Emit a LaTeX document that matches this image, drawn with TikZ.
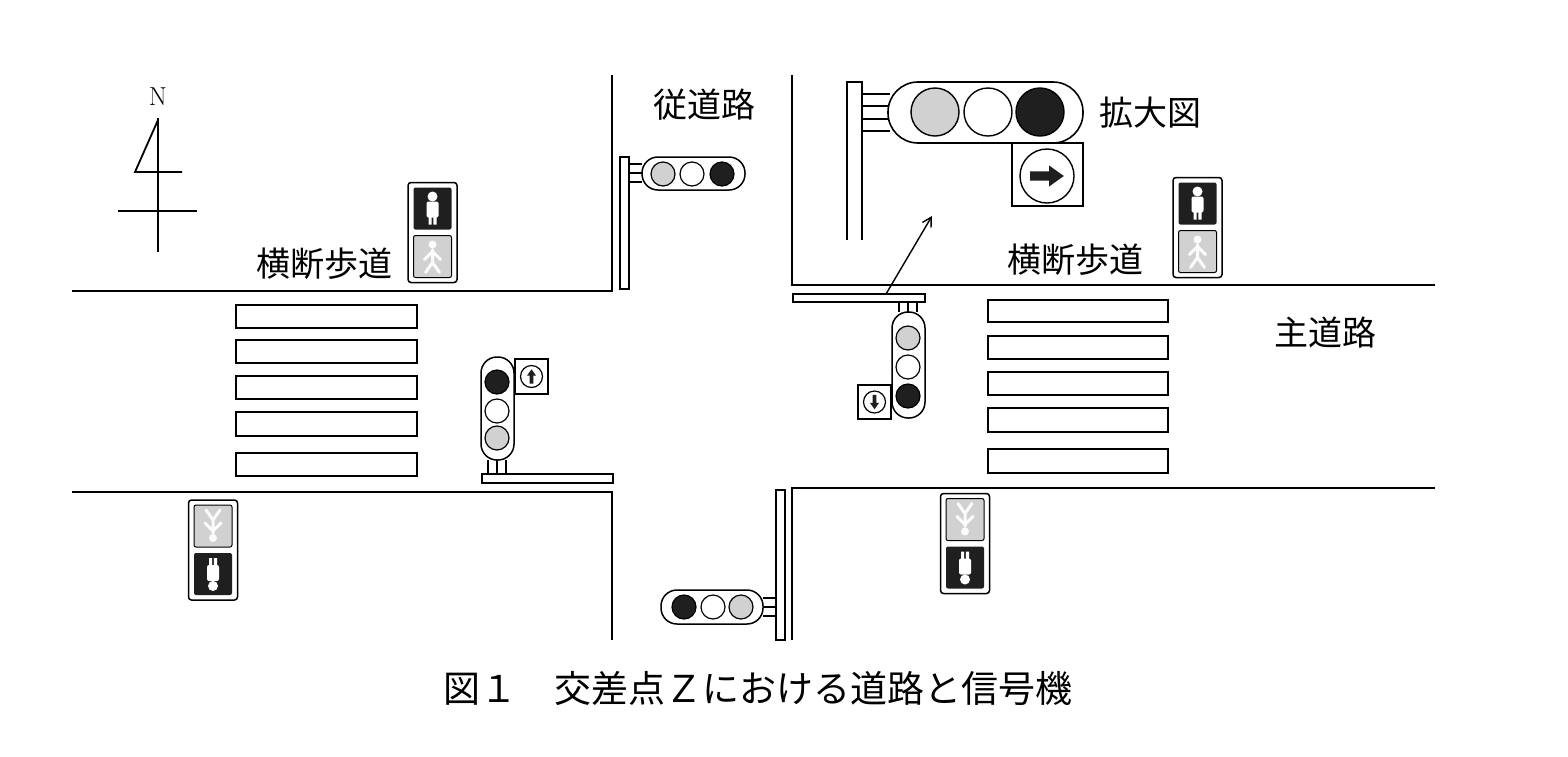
\documentclass[tikz,border=0pt]{standalone}
\usepackage{fontspec}
\newfontfamily\cjk{Noto Sans CJK JP}
\usetikzlibrary{arrows.meta}
\definecolor{lgray}{gray}{0.82}
\definecolor{dk}{gray}{0.12}
\tikzset{
  road/.style={line width=1.8pt},
  box/.style={line width=1.5pt, fill=white},
  lamp/.style={line width=1.2pt},
  lab/.style={font=\cjk\fontsize{34}{34}\selectfont},
}
% arrow polygon pointing right, unit size
\newcommand\arrowpoly{(-0.8,-0.22) -- (0.1,-0.22) -- (0.1,-0.5) -- (0.8,0) -- (0.1,0.5) -- (0.1,0.22) -- (-0.8,0.22) -- cycle}
\newcommand\pedsig[2]{%
\begin{scope}[shift={(#1)},rotate=#2]
  \draw[line width=1.5pt,rounded corners=3pt,fill=white] (-24.5,-50) rectangle (24.5,50);
  \fill[dk,rounded corners=2pt] (-19,-45) rectangle (19,-3);
  \draw[line width=1pt,fill=lgray,rounded corners=2pt] (-19,3) rectangle (19,45);
  \fill[white] (0,-36) circle (5);
  \fill[white,rounded corners=2pt] (-6,-31) rectangle (6,-15);
  \fill[white] (-4,-16) rectangle (-0.8,-8) (0.8,-16) rectangle (4,-8);
  \fill[white!92!lgray] (0,12) circle (4);
  \draw[white!92!lgray,line width=3pt,line cap=round] (0,17) -- (0,30) (0,19) -- (-8,27) (0,19) -- (8,27) (0,30) -- (-7,40) (0,30) -- (7,40);
\end{scope}}
\begin{document}
\begin{tikzpicture}[x=1pt,y=-1pt]
\useasboundingbox (0,0) rectangle (1568,756);
% roads
\draw[road] (72,291) -- (612,291) -- (612,75);
\draw[road] (792,75) -- (792,285) -- (1435,285);
\draw[road] (72,492) -- (612,492) -- (612,640);
\draw[road] (792,640) -- (792,488) -- (1435,488);
% crosswalks
\foreach \a/\b in {305/328,340/363,376/399,412/436,453/476}
  \draw[box] (236,\a) rectangle (417,\b);
\foreach \a/\b in {300/322,336/359,372/395,408/432,449/473}
  \draw[box] (988,\a) rectangle (1168,\b);
% north
\node[font=\fontsize{26}{26}\selectfont] (N) at (158,97) {N};
\draw[line width=1.8pt] (158,118) -- (158,252);
\draw[line width=1.8pt] (158,120) -- (135,172) -- (182,172);
\draw[line width=1.8pt] (118,211) -- (197,211);
% labels
\node[lab] (jud) at (704,105) {従道路};
\node[lab] (shu) at (1325,333) {主道路};
\node[lab] (kak) at (1150,113) {拡大図};
\node[lab] (ou1) at (324,264) {横断歩道};
\node[lab] (ou2) at (1075,260) {横断歩道};
\node[font=\cjk\fontsize{37}{37}\selectfont] (cap) at (758,688) {図１　交差点Ｚにおける道路と信号機};
% top signal
\draw[box] (620,157) rectangle (629,289);
\draw[lamp] (629,164) -- (642,164) (629,173) -- (642,173) (629,182) -- (642,182);
\draw[box,rounded corners=16pt] (642,157) rectangle (745,190);
\draw[lamp,fill=lgray] (663,174) circle (12);
\draw[lamp,fill=white] (692,174) circle (12);
\draw[lamp,fill=dk] (722,174) circle (12);
% bottom signal
\draw[box] (776,490) rectangle (785,640);
\draw[lamp] (763,598) -- (776,598) (763,607) -- (776,607) (763,616) -- (776,616);
\draw[box,rounded corners=16pt] (661,590) rectangle (763,624);
\draw[lamp,fill=dk] (684,607) circle (12);
\draw[lamp,fill=white] (713,607) circle (12);
\draw[lamp,fill=lgray] (741,607) circle (12);
% left middle signal
\draw[box] (482,474) rectangle (613,483);
\draw[lamp] (488,460) -- (488,474) (497,460) -- (497,474) (506,460) -- (506,474);
\draw[box,rounded corners=16pt] (481,357) rectangle (514,460);
\draw[lamp,fill=dk] (497,382) circle (12);
\draw[lamp,fill=white] (497,411) circle (12);
\draw[lamp,fill=lgray] (497,438) circle (12);
\draw[box] (515,359) rectangle (548,394);
\draw[lamp] (531.5,376.5) circle (11);
\fill[dk,shift={(531.5,376.5)},rotate=90,scale=9] \arrowpoly;
% right middle signal
\draw[box] (793,294) rectangle (925,302);
\draw[lamp] (899,302) -- (899,312) (908,302) -- (908,312) (917,302) -- (917,312);
\draw[box,rounded corners=16pt] (892,312) rectangle (925,418);
\draw[lamp,fill=lgray] (908,338) circle (12);
\draw[lamp,fill=white] (908,367) circle (12);
\draw[lamp,fill=dk] (908,396) circle (12);
\draw[box] (858,385) rectangle (891,419);
\draw[lamp] (874.5,402) circle (11);
\fill[dk,shift={(874.5,402)},rotate=-90,scale=9] \arrowpoly;
% enlarged
\draw[line width=1.5pt] (847,240) -- (847,82) -- (862,82) -- (862,240);
\draw[lamp] (862,94) -- (890,94) (862,106) -- (890,106) (862,119) -- (890,119) (862,131) -- (890,131);
\draw[box,line width=1.6pt,rounded corners=30pt] (888,82) rectangle (1083,143);
\draw[lamp,line width=1.4pt,fill=lgray] (935,112) circle (24);
\draw[lamp,line width=1.4pt,fill=white] (988,112) circle (24);
\draw[lamp,line width=1.4pt,fill=dk] (1040,112) circle (24);
\draw[box] (1012,143) rectangle (1083,206);
\draw[line width=1.4pt] (1047,176) circle (27);
\fill[dk,shift={(1047,176)},scale=21] \arrowpoly;
\coordinate (as) at (886,294);
\coordinate (ae) at (932,216);
\draw[line width=1.4pt,-{Straight Barb[length=9pt,width=10pt]}] (as) -- (ae);
% pedestrian signals
\pedsig{432.5,232.5}{0}
\pedsig{1197.5,227.5}{0}
\pedsig{213,550}{180}
\pedsig{965,543.5}{180}
\end{tikzpicture}
\end{document}
